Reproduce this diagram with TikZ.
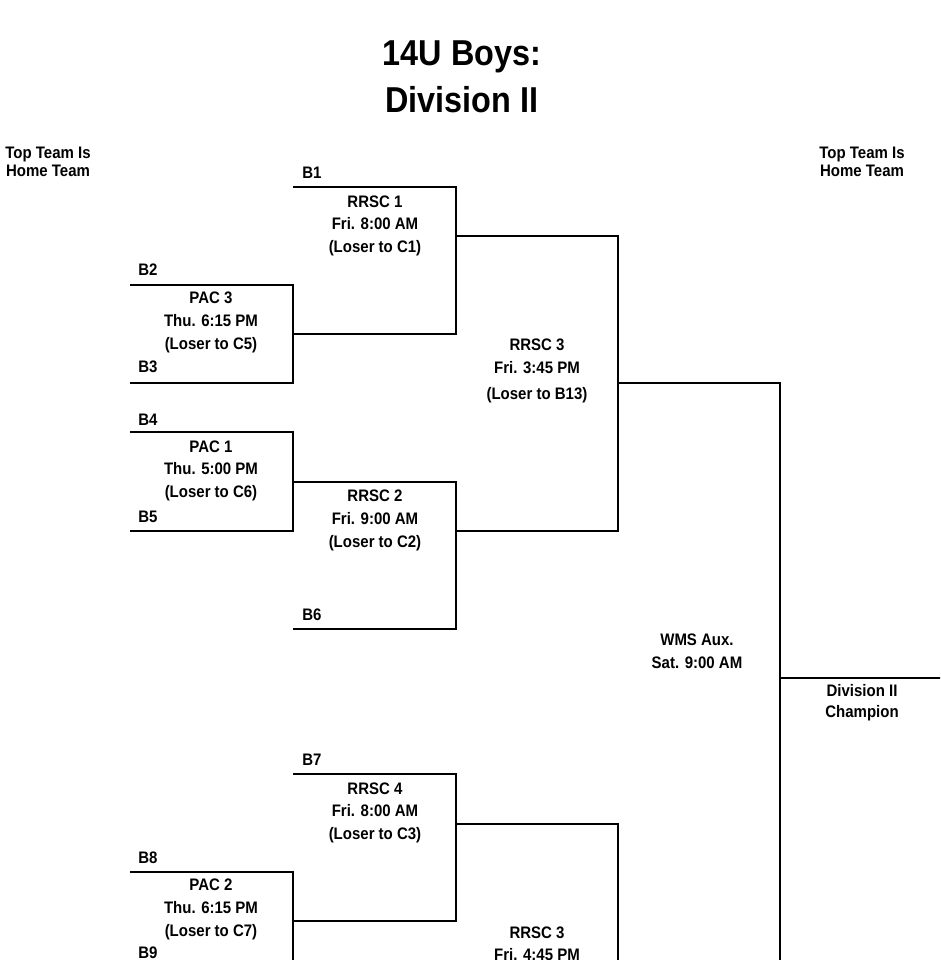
\documentclass[tikz,border=0pt]{standalone}
\usepackage{fontspec}
\setmainfont{Liberation Sans}[FakeStretch=0.9]
\begin{document}
\begin{tikzpicture}[x=0.75pt,y=-0.75pt,
  ln/.style={line width=1.6pt},
  t/.style={font=\bfseries\fontsize{12.5}{14}\selectfont,inner sep=0pt},
  ti/.style={font=\bfseries\fontsize{27}{30}\selectfont,inner sep=0pt}]
\useasboundingbox (0,0) rectangle (940,960);
\clip (0,0) rectangle (940,960);
\node[ti] (t1) at (462,57) {14U Boys:};
\node[ti] (t2) at (462,100) {Division II};
\node[t,align=center] (hl) at (48,162) {Top Team Is\\Home Team};
\node[t,align=center] (hr) at (862,162) {Top Team Is\\Home Team};
% labels
\node[t] (b1) at (312,173) {B1};
\node[t] (b2) at (148,270) {B2};
\node[t] (b3) at (148,367) {B3};
\node[t] (b4) at (148,420) {B4};
\node[t] (b5) at (148,517) {B5};
\node[t] (b6) at (312,615) {B6};
\node[t] (b7) at (312,760) {B7};
\node[t] (b8) at (148,858) {B8};
\node[t] (b9) at (148,953) {B9};
% games
\node[t] (g1a) at (375,202) {RRSC 1};
\node[t] (g1b) at (375,224) {Fri. 8:00 AM};
\node[t] (g1c) at (375,248) {(Loser to C1)};
\node[t] (p3a) at (211,298) {PAC 3};
\node[t] (p3b) at (211,321) {Thu. 6:15 PM};
\node[t] (p3c) at (211,345) {(Loser to C5)};
\node[t] (p1a) at (211,447) {PAC 1};
\node[t] (p1b) at (211,469) {Thu. 5:00 PM};
\node[t] (p1c) at (211,493) {(Loser to C6)};
\node[t] (g2a) at (375,496) {RRSC 2};
\node[t] (g2b) at (375,519) {Fri. 9:00 AM};
\node[t] (g2c) at (375,543) {(Loser to C2)};
\node[t] (g3a) at (537,345) {RRSC 3};
\node[t] (g3b) at (537,368) {Fri. 3:45 PM};
\node[t] (g3c) at (537,395) {(Loser to B13)};
\node[t] (wa) at (697,640) {WMS Aux.};
\node[t] (wb) at (697,663) {Sat. 9:00 AM};
\node[t] (ca) at (862,691) {Division II};
\node[t] (cb) at (862,713) {Champion};
\node[t] (g4a) at (375,789) {RRSC 4};
\node[t] (g4b) at (375,811) {Fri. 8:00 AM};
\node[t] (g4c) at (375,835) {(Loser to C3)};
\node[t] (p2a) at (211,885) {PAC 2};
\node[t] (p2b) at (211,908) {Thu. 6:15 PM};
\node[t] (p2c) at (211,932) {(Loser to C7)};
\node[t] (g5a) at (537,933) {RRSC 3};
\node[t] (g5b) at (537,955) {Fri. 4:45 PM};
% lines
\draw[ln] (293,187) -- (456,187) -- (456,334) -- (293,334);
\draw[ln] (130,285) -- (293,285) -- (293,383) -- (130,383);
\draw[ln] (130,432) -- (293,432) -- (293,531) -- (130,531);
\draw[ln] (293,482) -- (456,482) -- (456,629) -- (293,629);
\draw[ln] (456,236) -- (618,236) -- (618,531) -- (456,531);
\draw[ln] (618,383) -- (780,383) -- (780,970);
\draw[ln] (780,678) -- (945,678);
\draw[ln] (293,774) -- (456,774) -- (456,921) -- (293,921);
\draw[ln] (456,824) -- (618,824) -- (618,970);
\draw[ln] (130,872) -- (293,872) -- (293,970);
\end{tikzpicture}
\end{document}
